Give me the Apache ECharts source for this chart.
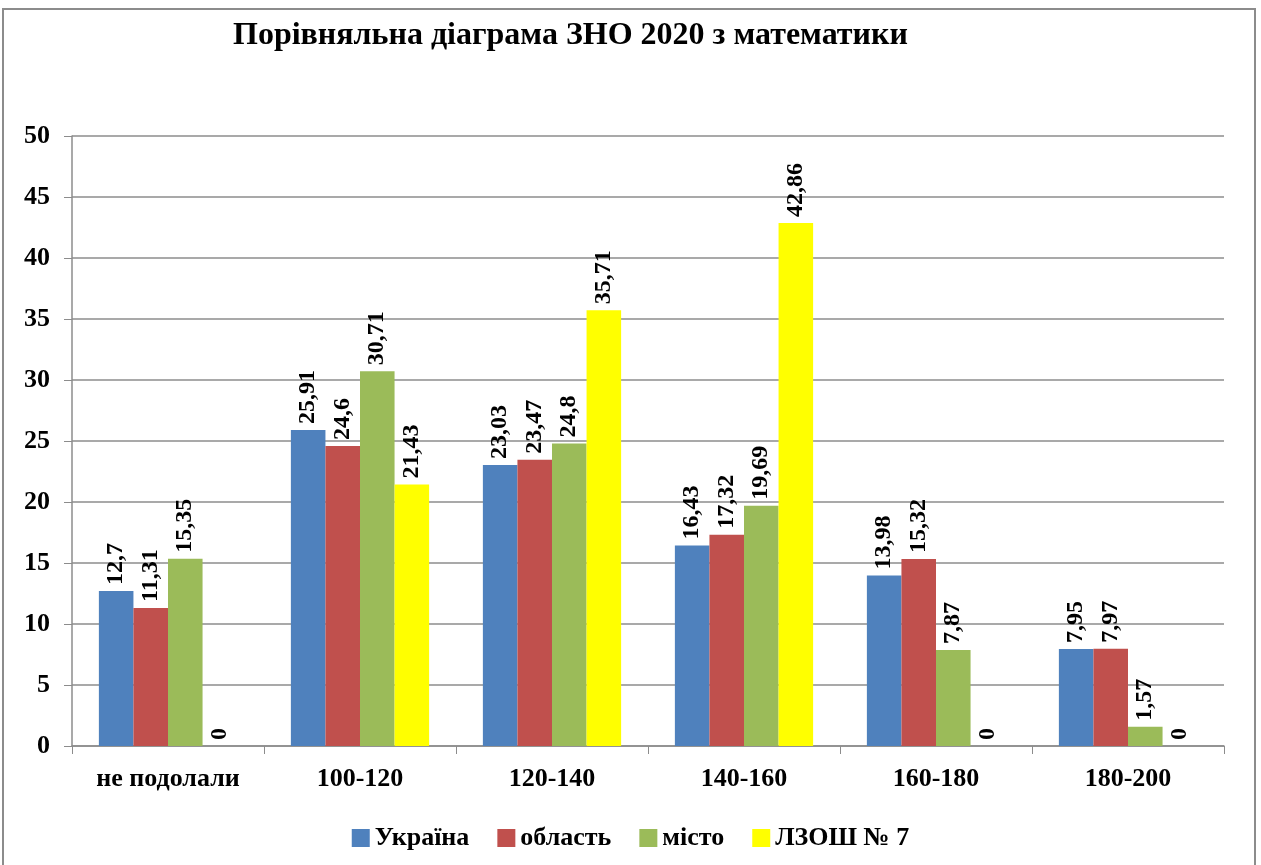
<!DOCTYPE html>
<html>
<head>
<meta charset="utf-8">
<script src="https://cdn.jsdelivr.net/npm/echarts@6/dist/echarts.min.js"></script>
<style>
  html, body { margin: 0; padding: 0; background: #fff; }
  #main { width: 1261px; height: 865px; }
</style>
</head>
<body>
<div id="main"></div>
<script>
var categories = ['не подолали', '100-120', '120-140', '140-160', '160-180', '180-200'];
var ukraine = [12.7, 25.91, 23.03, 16.43, 13.98, 7.95];
var oblast = [11.31, 24.6, 23.47, 17.32, 15.32, 7.97];
var misto = [15.35, 30.71, 24.8, 19.69, 7.87, 1.57];
var school = [0, 21.43, 35.71, 42.86, 0, 0];

var chart = echarts.init(document.getElementById('main'));
var font = '"Liberation Serif", "Times New Roman", serif';

// підпис над стовпчиком, повернутий на 90 градусів
var barLabel = {
    show: true,
    position: 'top',
    rotate: 90,
    align: 'left',
    verticalAlign: 'middle',
    distance: 6,
    fontFamily: font,
    fontWeight: 'bold',
    fontSize: 24,
    color: '#000',
    formatter: function (p) { return String(p.value).replace('.', ','); }
};

function makeSeries(name, data, color) {
    return {
        name: name,
        type: 'bar',
        data: data,
        barGap: '0%',
        barCategoryGap: '28%',
        itemStyle: { color: color },
        label: barLabel
    };
}

chart.setOption({
    animation: false,
    textStyle: { fontFamily: font },
    graphic: [{
        type: 'rect',
        shape: { x: 3, y: 9, width: 1252, height: 870 },
        style: { fill: 'none', stroke: '#8c8c8c', lineWidth: 2 }
    }],
    title: {
        text: 'Порівняльна діаграма ЗНО 2020 з математики',
        left: 228,
        top: 15,
        textStyle: { fontFamily: font, fontWeight: 'bold', fontSize: 32, color: '#000' }
    },
    legend: {
        top: 820,
        left: 'center',
        itemWidth: 18,
        itemHeight: 18,
        itemGap: 28,
        icon: 'rect',
        textStyle: { fontFamily: font, fontWeight: 'bold', fontSize: 26, color: '#000' },
        data: ['Україна', 'область', 'місто', 'ЛЗОШ № 7']
    },
    grid: { left: 72, right: 37, top: 136, bottom: 119 },
    xAxis: {
        type: 'category',
        data: categories,
        axisLine: { lineStyle: { color: '#8c8c8c', width: 1.5 } },
        axisTick: { show: true, length: 8, lineStyle: { color: '#8c8c8c' } },
        axisLabel: { fontFamily: font, fontWeight: 'bold', fontSize: 26, color: '#000', margin: 20 }
    },
    yAxis: {
        type: 'value',
        min: 0,
        max: 50,
        interval: 5,
        axisLine: { show: true, lineStyle: { color: '#8c8c8c', width: 1.5 } },
        axisTick: { show: true, length: 8, lineStyle: { color: '#8c8c8c' } },
        splitLine: { lineStyle: { color: '#8c8c8c', width: 1.5 } },
        axisLabel: { fontFamily: font, fontWeight: 'bold', fontSize: 26, color: '#000', margin: 22 }
    },
    series: [
        makeSeries('Україна', ukraine, '#4F81BD'),
        makeSeries('область', oblast, '#C0504D'),
        makeSeries('місто', misto, '#9BBB59'),
        makeSeries('ЛЗОШ № 7', school, '#FFFF00')
    ]
});
</script>
</body>
</html>
